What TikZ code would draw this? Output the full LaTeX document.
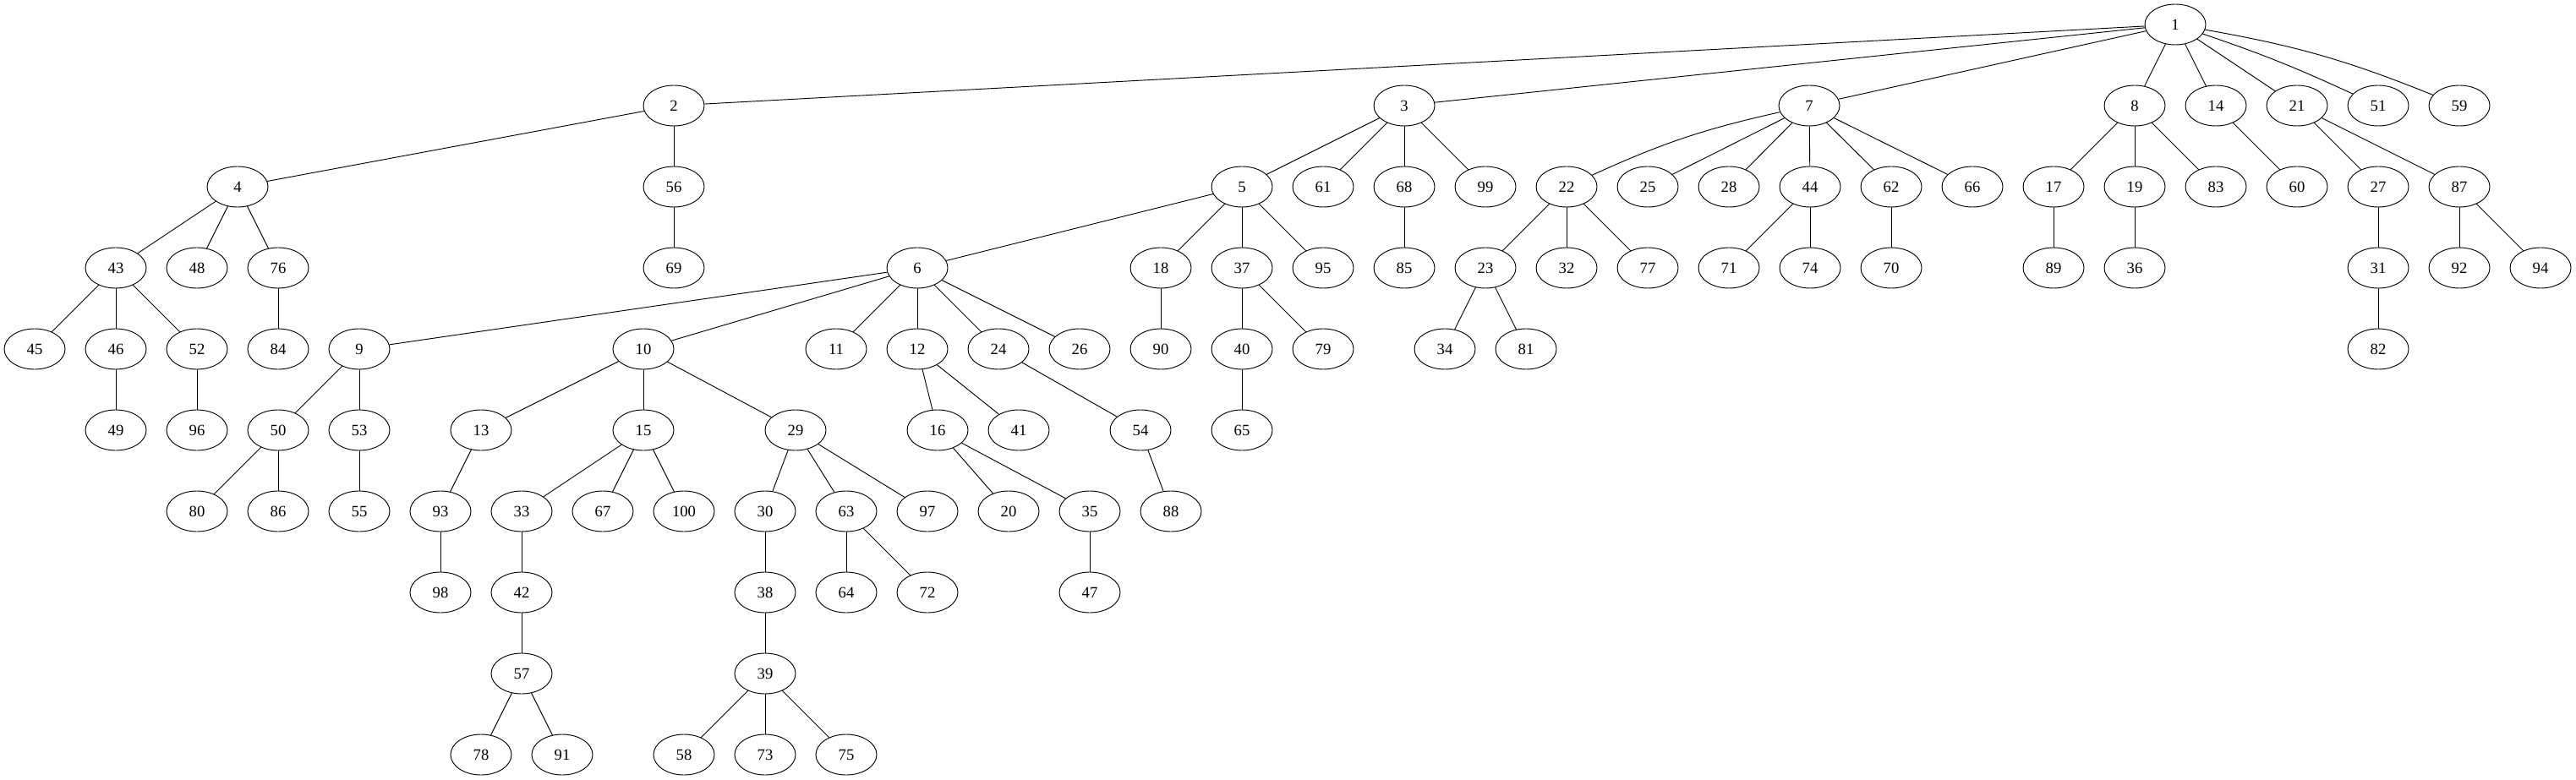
\documentclass[tikz,border=0pt]{standalone}
\usepackage{fontspec}
\setmainfont{Liberation Serif}
\usetikzlibrary{shapes}
\tikzset{vtx/.style={draw, ellipse, minimum width=54pt, minimum height=36pt, inner sep=0pt, font=\fontsize{14pt}{16pt}\selectfont}}

\begin{document}
\begin{tikzpicture}[x=0.75pt, y=-72pt, line width=0.7pt]
\useasboundingbox (0,-0.302) rectangle (3047,9.3125);
% rank 0
\node[vtx] (n1) at (2573,0) {1};
% rank 1
\node[vtx] (n2) at (797,1) {2};
\node[vtx] (n3) at (1661,1) {3};
\node[vtx] (n7) at (2140,1) {7};
\node[vtx] (n8) at (2525,1) {8};
\node[vtx] (n14) at (2621,1) {14};
\node[vtx] (n21) at (2717,1) {21};
\node[vtx] (n51) at (2813,1) {51};
\node[vtx] (n59) at (2909,1) {59};
% rank 2
\node[vtx] (n4) at (281,2) {4};
\node[vtx] (n56) at (797,2) {56};
\node[vtx] (n5) at (1469,2) {5};
\node[vtx] (n61) at (1565,2) {61};
\node[vtx] (n68) at (1661,2) {68};
\node[vtx] (n99) at (1757,2) {99};
\node[vtx] (n22) at (1853,2) {22};
\node[vtx] (n25) at (1949,2) {25};
\node[vtx] (n28) at (2045,2) {28};
\node[vtx] (n44) at (2141,2) {44};
\node[vtx] (n62) at (2237,2) {62};
\node[vtx] (n66) at (2333,2) {66};
\node[vtx] (n17) at (2429,2) {17};
\node[vtx] (n19) at (2525,2) {19};
\node[vtx] (n83) at (2621,2) {83};
\node[vtx] (n60) at (2717,2) {60};
\node[vtx] (n27) at (2813,2) {27};
\node[vtx] (n87) at (2909,2) {87};
% rank 3
\node[vtx] (n43) at (137,3) {43};
\node[vtx] (n48) at (233,3) {48};
\node[vtx] (n76) at (329,3) {76};
\node[vtx] (n69) at (797,3) {69};
\node[vtx] (n6) at (1085,3) {6};
\node[vtx] (n18) at (1373,3) {18};
\node[vtx] (n37) at (1469,3) {37};
\node[vtx] (n95) at (1565,3) {95};
\node[vtx] (n85) at (1661,3) {85};
\node[vtx] (n23) at (1757,3) {23};
\node[vtx] (n32) at (1853,3) {32};
\node[vtx] (n77) at (1949,3) {77};
\node[vtx] (n71) at (2045,3) {71};
\node[vtx] (n74) at (2141,3) {74};
\node[vtx] (n70) at (2237,3) {70};
\node[vtx] (n89) at (2429,3) {89};
\node[vtx] (n36) at (2525,3) {36};
\node[vtx] (n31) at (2813,3) {31};
\node[vtx] (n92) at (2909,3) {92};
\node[vtx] (n94) at (3005,3) {94};
% rank 4
\node[vtx] (n45) at (41,4) {45};
\node[vtx] (n46) at (137,4) {46};
\node[vtx] (n52) at (233,4) {52};
\node[vtx] (n84) at (329,4) {84};
\node[vtx] (n9) at (425,4) {9};
\node[vtx] (n10) at (761,4) {10};
\node[vtx] (n11) at (989,4) {11};
\node[vtx] (n12) at (1085,4) {12};
\node[vtx] (n24) at (1181,4) {24};
\node[vtx] (n26) at (1277,4) {26};
\node[vtx] (n90) at (1373,4) {90};
\node[vtx] (n40) at (1469,4) {40};
\node[vtx] (n79) at (1565,4) {79};
\node[vtx] (n34) at (1709,4) {34};
\node[vtx] (n81) at (1805,4) {81};
\node[vtx] (n82) at (2813,4) {82};
% rank 5
\node[vtx] (n49) at (137,5) {49};
\node[vtx] (n96) at (233,5) {96};
\node[vtx] (n50) at (329,5) {50};
\node[vtx] (n53) at (425,5) {53};
\node[vtx] (n13) at (569,5) {13};
\node[vtx] (n15) at (761,5) {15};
\node[vtx] (n29) at (941,5) {29};
\node[vtx] (n16) at (1109,5) {16};
\node[vtx] (n41) at (1205,5) {41};
\node[vtx] (n54) at (1349,5) {54};
\node[vtx] (n65) at (1469,5) {65};
% rank 6
\node[vtx] (n80) at (233,6) {80};
\node[vtx] (n86) at (329,6) {86};
\node[vtx] (n55) at (425,6) {55};
\node[vtx] (n93) at (521,6) {93};
\node[vtx] (n33) at (617,6) {33};
\node[vtx] (n67) at (713,6) {67};
\node[vtx] (n100) at (809,6) {100};
\node[vtx] (n30) at (905,6) {30};
\node[vtx] (n63) at (1001,6) {63};
\node[vtx] (n97) at (1097,6) {97};
\node[vtx] (n20) at (1193,6) {20};
\node[vtx] (n35) at (1289,6) {35};
\node[vtx] (n88) at (1385,6) {88};
% rank 7
\node[vtx] (n98) at (521,7) {98};
\node[vtx] (n42) at (617,7) {42};
\node[vtx] (n38) at (905,7) {38};
\node[vtx] (n64) at (1001,7) {64};
\node[vtx] (n72) at (1097,7) {72};
\node[vtx] (n47) at (1289,7) {47};
% rank 8
\node[vtx] (n57) at (617,8) {57};
\node[vtx] (n39) at (905,8) {39};
% rank 9
\node[vtx] (n78) at (569,9) {78};
\node[vtx] (n91) at (665,9) {91};
\node[vtx] (n58) at (809,9) {58};
\node[vtx] (n73) at (905,9) {73};
\node[vtx] (n75) at (1001,9) {75};

\path
(n1) edge (n2) edge (n3) edge (n7) edge (n8) edge (n14) edge (n21) edge[bend left=3] (n51) edge[bend left=6] (n59)
(n2) edge (n4) edge (n56)
(n3) edge (n5) edge (n61) edge (n68) edge (n99)
(n7) edge[bend right=6] (n22) edge (n25) edge (n28) edge (n44) edge (n62) edge (n66)
(n8) edge (n17) edge (n19) edge (n83)
(n14) edge (n60)
(n21) edge (n27) edge (n87)
(n4) edge (n43) edge (n48) edge (n76)
(n56) edge (n69)
(n5) edge (n6) edge (n18) edge (n37) edge (n95)
(n68) edge (n85)
(n22) edge (n23) edge (n32) edge (n77)
(n44) edge (n71) edge (n74)
(n62) edge (n70)
(n17) edge (n89)
(n19) edge (n36)
(n27) edge (n31)
(n87) edge (n92) edge (n94)
(n43) edge (n45) edge (n46) edge (n52)
(n76) edge (n84)
(n6) edge (n9) edge (n10) edge (n11) edge (n12) edge (n24) edge (n26)
(n18) edge (n90)
(n37) edge (n40) edge (n79)
(n23) edge (n34) edge (n81)
(n31) edge (n82)
(n46) edge (n49)
(n52) edge (n96)
(n9) edge (n50) edge (n53)
(n10) edge (n13) edge (n15) edge (n29)
(n12) edge (n16) edge (n41)
(n24) edge (n54)
(n40) edge (n65)
(n50) edge (n80) edge (n86)
(n53) edge (n55)
(n13) edge (n93)
(n15) edge (n33) edge (n67) edge (n100)
(n29) edge (n30) edge (n63) edge (n97)
(n16) edge (n20) edge (n35)
(n54) edge (n88)
(n93) edge (n98)
(n33) edge (n42)
(n30) edge (n38)
(n63) edge (n64) edge (n72)
(n35) edge (n47)
(n42) edge (n57)
(n38) edge (n39)
(n57) edge (n78) edge (n91)
(n39) edge (n58) edge (n73) edge (n75)
;
\end{tikzpicture}
\end{document}
